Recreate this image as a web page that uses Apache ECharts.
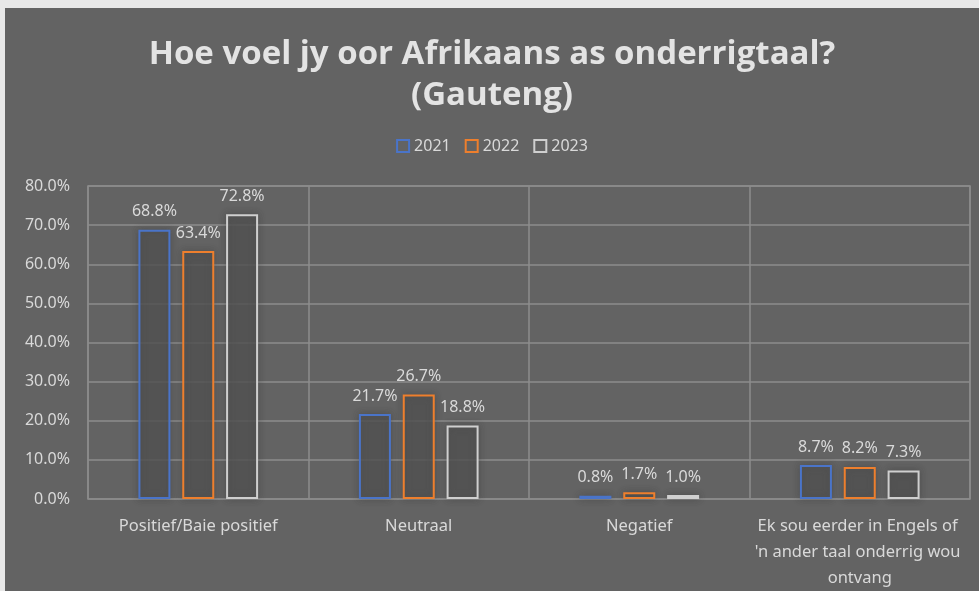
<!DOCTYPE html>
<html>
<head>
  <meta charset="UTF-8">
  <title>Hoe voel jy oor Afrikaans as onderrigtaal?</title>
  <script src="https://cdn.jsdelivr.net/npm/echarts@6/dist/echarts.min.js"></script>
  <style>
    html, body { margin: 0; padding: 0; background: #e8e8e8; }
    #main { position: absolute; left: 5px; top: 8px; width: 974px; height: 583px; }
  </style>
</head>
<body>
  <div id="main"></div>
<script type="text/javascript">
  // data
  var categories = ['Positief/Baie positief', 'Neutraal', 'Negatief',
    "Ek sou eerder in Engels of 'n ander taal onderrig wou ontvang"];
  var years = ['2021', '2022', '2023'];
  var v2021 = [68.8, 21.7, 0.8, 8.7];
  var v2022 = [63.4, 26.7, 1.7, 8.2];
  var v2023 = [72.8, 18.8, 1.0, 7.3];
  var colors = ['#4a74c9', '#ee7f2d', '#cfcfcf'];

  var txt = '#d9d9d9';
  var font = 'Noto Sans';

  function mkSeries(name, data, col) {
    return {
      name: name,
      type: 'bar',
      data: data,
      barWidth: 32,
      barGap: '37%',
      itemStyle: {
        color: 'rgba(84,84,84,0.75)',
        borderColor: col,
        borderWidth: 2,
        shadowBlur: 7,
        shadowColor: 'rgba(50,50,50,0.45)'
      },
      label: {
        show: true,
        position: 'top',
        distance: 10,
        color: txt,
        fontFamily: font,
        fontSize: 16,
        formatter: function (p) { return p.value.toFixed(1) + '%'; }
      }
    };
  }

  var myChart = echarts.init(document.getElementById('main'));
  var option = {
    backgroundColor: '#636363',
    animation: false,
    title: {
      text: 'Hoe voel jy oor Afrikaans as onderrigtaal?\n(Gauteng)',
      left: 'center',
      top: 21,
      textStyle: {
        color: '#e3e3e3',
        fontFamily: 'Open Sans',
        fontWeight: 'bold',
        fontSize: 33,
        lineHeight: 41
      }
    },
    legend: {
      data: years,
      top: 125,
      left: 'center',
      itemWidth: 12,
      itemHeight: 12,
      itemGap: 14,
      icon: 'rect',
      itemStyle: { color: 'transparent', borderWidth: 2 },
      textStyle: { color: txt, fontFamily: font, fontSize: 16 }
    },
    grid: {
      left: 83,
      right: 9,
      top: 178,
      bottom: 92,
      show: true,
      borderColor: '#8c8c8c',
      borderWidth: 1.5
    },
    xAxis: {
      type: 'category',
      data: categories,
      axisLine: { show: false },
      axisTick: { show: false },
      splitLine: { show: true, lineStyle: { color: '#8c8c8c', width: 1.5 } },
      axisLabel: {
        color: txt,
        fontFamily: font,
        fontSize: 16.5,
        lineHeight: 26,
        margin: 14,
        width: 212,
        overflow: 'break',
        interval: 0
      }
    },
    yAxis: {
      type: 'value',
      min: 0,
      max: 80,
      interval: 10,
      axisLine: { show: false },
      axisTick: { show: false },
      splitLine: { lineStyle: { color: '#8c8c8c', width: 1.5 } },
      axisLabel: {
        color: txt,
        fontFamily: font,
        fontSize: 16,
        margin: 18,
        formatter: function (v) { return v.toFixed(1) + '%'; }
      }
    },
    series: [
      mkSeries(years[0], v2021, colors[0]),
      mkSeries(years[1], v2022, colors[1]),
      mkSeries(years[2], v2023, colors[2])
    ]
  };
  myChart.setOption(option);
</script>
</body>
</html>
